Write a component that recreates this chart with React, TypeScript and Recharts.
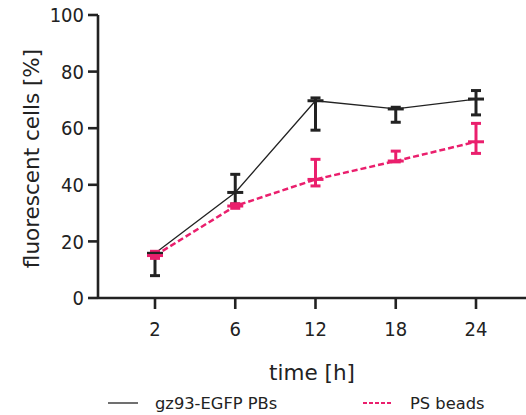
import { LineChart, Line, XAxis, YAxis, ErrorBar, Legend } from 'recharts';

// time points (h)
const times = ['2', '6', '12', '18', '24'];

// gz93-EGFP PBs
const pbMean = [15.8, 37.3, 69.7, 66.8, 70.3];
const pbErrLow = [7.9, 4.1, 10.4, 4.7, 5.6];
const pbErrHigh = [0.3, 6.4, 1.0, 0.6, 3.0];

// PS beads
const psMean = [15.0, 32.5, 41.9, 48.4, 55.2];
const psErrLow = [1.0, 0.8, 2.3, 0.3, 4.1];
const psErrHigh = [1.5, 0.8, 7.1, 3.5, 6.5];

const yTicks = [0, 20, 40, 60, 80, 100];
const seriesNames = ['gz93-EGFP PBs', 'PS beads'];

const BLACK = '#222222';
const PINK = '#ea1f6d';
const TICK_FONT = "'DejaVu Sans Condensed', 'DejaVu Sans', sans-serif";
const LABEL_FONT = "'DejaVu Sans', sans-serif";

const data = times.map((t, i) => ({
  time: t,
  pb: pbMean[i],
  pbErr: [pbErrLow[i], pbErrHigh[i]],
  ps: psMean[i],
  psErr: [psErrLow[i], psErrHigh[i]],
}));

const meanMark = (color: string) => (props: any) => {
  const { cx, cy, index } = props;
  if (cx == null || cy == null) return <g key={`m-${index}`} />;
  return <line key={`m-${index}`} x1={cx - 8} x2={cx + 8} y1={cy} y2={cy} stroke={color} strokeWidth={3} />;
};

const yLabel = (props: any) => {
  const vb = props.viewBox || { x: 0, y: 15, height: 283 };
  const x = vb.x + 39;
  const y = vb.y + vb.height / 2 + 2;
  return (
    <text x={x} y={y} transform={`rotate(-90, ${x}, ${y})`} textAnchor="middle" fill={BLACK} fontSize={21.5} fontFamily={LABEL_FONT}>
      fluorescent cells [%]
    </text>
  );
};

const xLabel = (props: any) => {
  const vb = props.viewBox || { x: 98, y: 298, width: 428 };
  return (
    <text x={vb.x + vb.width / 2} y={vb.y + 82} textAnchor="middle" fill={BLACK} fontSize={21.5} fontFamily={LABEL_FONT}>
      time [h]
    </text>
  );
};

const legendX = [108, 363];
const legendDash = [undefined, '4 2'];
const legendWidth = [1.3, 2.2];

const renderLegend = (props: any) => {
  const items = props.payload || [];
  return (
    <div style={{ position: 'relative', width: 526, height: 37, fontFamily: LABEL_FONT, fontSize: 16.3, color: BLACK }}>
      {seriesNames.map((name, i) => {
        const it = items.find((p: any) => p.value === name);
        const color = it ? it.color : i === 0 ? BLACK : PINK;
        return (
          <div key={name} style={{ position: 'absolute', left: legendX[i], top: 14, height: 22, display: 'flex', alignItems: 'center', whiteSpace: 'nowrap' }}>
            <svg width={30} height={6} style={{ marginRight: 17 }}>
              <line x1={0} x2={30} y1={3} y2={3} stroke={color} strokeWidth={legendWidth[i]} strokeDasharray={legendDash[i]} />
            </svg>
            <span>{name}</span>
          </div>
        );
      })}
    </div>
  );
};

export default function App() {
  return (
    <div style={{ position: 'absolute', left: 0, top: 0, width: 526, height: 415, background: '#fff' }}>
      <LineChart width={526} height={415} data={data} margin={{ top: 15, right: 0, bottom: 0, left: 0 }}>
        <XAxis
          dataKey="time"
          padding={{ left: 57, right: 50 }}
          height={80}
          axisLine={{ stroke: BLACK, strokeWidth: 2.6 }}
          tickLine={{ stroke: BLACK, strokeWidth: 2.6 }}
          tickSize={11}
          tickMargin={13}
          tick={{ fill: BLACK, fontSize: 20, fontFamily: TICK_FONT }}
          label={xLabel}
        />
        <YAxis
          domain={[0, 100]}
          ticks={yTicks}
          width={98}
          axisLine={{ stroke: BLACK, strokeWidth: 2.6 }}
          tickLine={{ stroke: BLACK, strokeWidth: 2.6 }}
          tickSize={10}
          tickMargin={4}
          tick={{ fill: BLACK, fontSize: 20, fontFamily: TICK_FONT }}
          label={yLabel}
        />
        <Legend verticalAlign="bottom" content={renderLegend} wrapperStyle={{ left: 0, bottom: 0, width: 526, height: 37 }} />
        <Line
          name={seriesNames[0]}
          dataKey="pb"
          type="linear"
          stroke={BLACK}
          strokeWidth={1.3}
          dot={meanMark(BLACK)}
          activeDot={false}
          isAnimationActive={false}
        >
          <ErrorBar dataKey="pbErr" direction="y" width={5} stroke={BLACK} strokeWidth={3} />
        </Line>
        <Line
          name={seriesNames[1]}
          dataKey="ps"
          type="linear"
          stroke={PINK}
          strokeWidth={2.5}
          strokeDasharray="6 3"
          dot={meanMark(PINK)}
          activeDot={false}
          isAnimationActive={false}
        >
          <ErrorBar dataKey="psErr" direction="y" width={5} stroke={PINK} strokeWidth={3} />
        </Line>
      </LineChart>
    </div>
  );
}
